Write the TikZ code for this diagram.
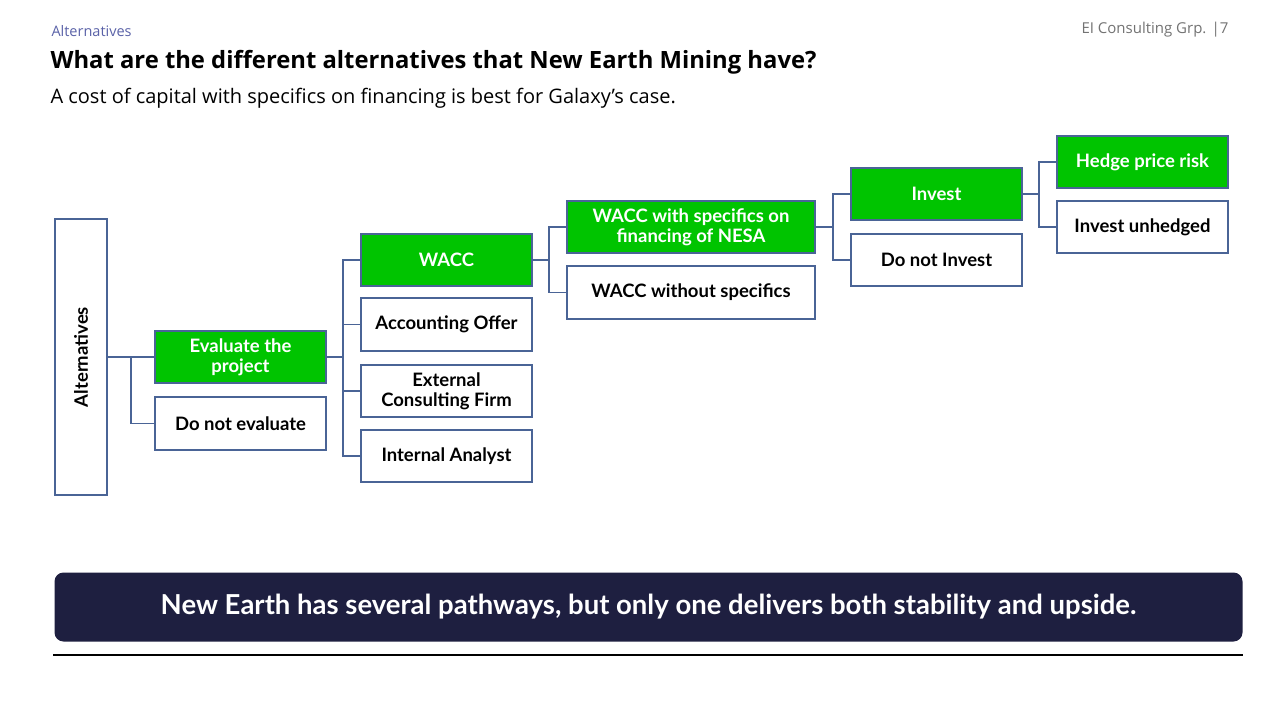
\documentclass[tikz,border=0pt]{standalone}
\usepackage{fontspec}
\setmainfont{Open Sans}
\newfontfamily\boxfont{Lato}
\definecolor{gr}{HTML}{00C400}
\definecolor{bd}{HTML}{4A6496}
\definecolor{navy}{HTML}{1E1F40}
\definecolor{hdr}{HTML}{5A62A8}
\begin{document}
\begin{tikzpicture}[x=1pt,y=-1pt,
  bx/.style={draw=bd,line width=1.5pt,fill=white,inner sep=2pt,align=center,
    font=\boxfont\fontsize{18.5}{20}\selectfont\bfseries,text=black},
  gbx/.style={bx,fill=gr,text=white},
  ln/.style={draw=bd,line width=1.5pt}]
\useasboundingbox (0,0) rectangle (1280,720);
\fill[white] (0,0) rectangle (1280,720);
\node[anchor=west,text=hdr,font=\fontsize{14.5}{16}\selectfont] (hd) at (48,31) {Alternatives};
\node[anchor=east,text=gray!90!black,font=\fontsize{15}{16}\selectfont] (pg) at (1232,30) {EI Consulting Grp. |7};
\node[anchor=west,font=\fontsize{23.8}{26}\selectfont\bfseries] (tt) at (47,62) {What are the different alternatives that New Earth Mining have?};
\node[anchor=west,font=\fontsize{20}{22}\selectfont] (st) at (47,98) {A cost of capital with specifics on financing is best for Galaxy’s case.};
% boxes
\node[bx,minimum width=52pt,minimum height=276pt] (alt) at (81,357) {};
\node[rotate=90,font=\boxfont\fontsize{18.5}{20}\selectfont\bfseries] (altt) at (81,357) {Alternatives};
\node[gbx,minimum width=171pt,minimum height=52pt] (ev) at (240.5,357) {Evaluate the\\[0pt]project};
\node[bx,minimum width=171pt,minimum height=53pt] (dne) at (240.5,423.5) {Do not evaluate};
\node[gbx,minimum width=171pt,minimum height=52pt] (wacc) at (446.5,260) {WACC};
\node[bx,minimum width=171pt,minimum height=53pt] (acc) at (446.5,324.5) {Accounting Offer};
\node[bx,minimum width=171pt,minimum height=52pt] (ext) at (446.5,391) {External\\[0pt]Consulting Firm};
\node[bx,minimum width=171pt,minimum height=52pt] (int) at (446.5,456) {Internal Analyst};
\node[gbx,minimum width=248pt,minimum height=52pt] (ws) at (691,227) {WACC with specifics on\\[0pt]financing of NESA};
\node[bx,minimum width=248pt,minimum height=53pt] (wo) at (691,292.5) {WACC without specifics};
\node[gbx,minimum width=171pt,minimum height=52pt] (inv) at (936.5,194) {Invest};
\node[bx,minimum width=171pt,minimum height=52pt] (dni) at (936.5,260) {Do not Invest};
\node[gbx,minimum width=171pt,minimum height=52pt] (hed) at (1142.5,162) {Hedge price risk};
\node[bx,minimum width=171pt,minimum height=52pt] (unh) at (1142.5,227) {Invest unhedged};
% connectors
\draw[ln] (alt.east) -- (131,357) coordinate (j1) -- (ev.west);
\draw[ln] (j1) |- (dne.west);
\draw[ln] (ev.east) -- (343,357) coordinate (j2);
\draw[ln] (j2) |- (wacc.west); \draw[ln] (j2) |- (acc.west);
\draw[ln] (j2) |- (ext.west); \draw[ln] (j2) |- (int.west);
\draw[ln] (wacc.east) -- (549,260) coordinate (j3);
\draw[ln] (j3) |- (ws.west); \draw[ln] (j3) |- (wo.west);
\draw[ln] (ws.east) -- (833,227) coordinate (j4);
\draw[ln] (j4) |- (inv.west); \draw[ln] (j4) |- (dni.west);
\draw[ln] (inv.east) -- (1039,194) coordinate (j5);
\draw[ln] (j5) |- (hed.west); \draw[ln] (j5) |- (unh.west);
% banner
\node[fill=navy,rounded corners=9pt,minimum width=1188pt,minimum height=69pt,text=white,
  font=\boxfont\fontsize{27.5}{30}\selectfont\bfseries] (ban) at (648.5,607)
  {New Earth has several pathways, but only one delivers both stability and upside.};
\draw[line width=1.2pt] (53,655) -- (1243,655);
\end{tikzpicture}
\end{document}
